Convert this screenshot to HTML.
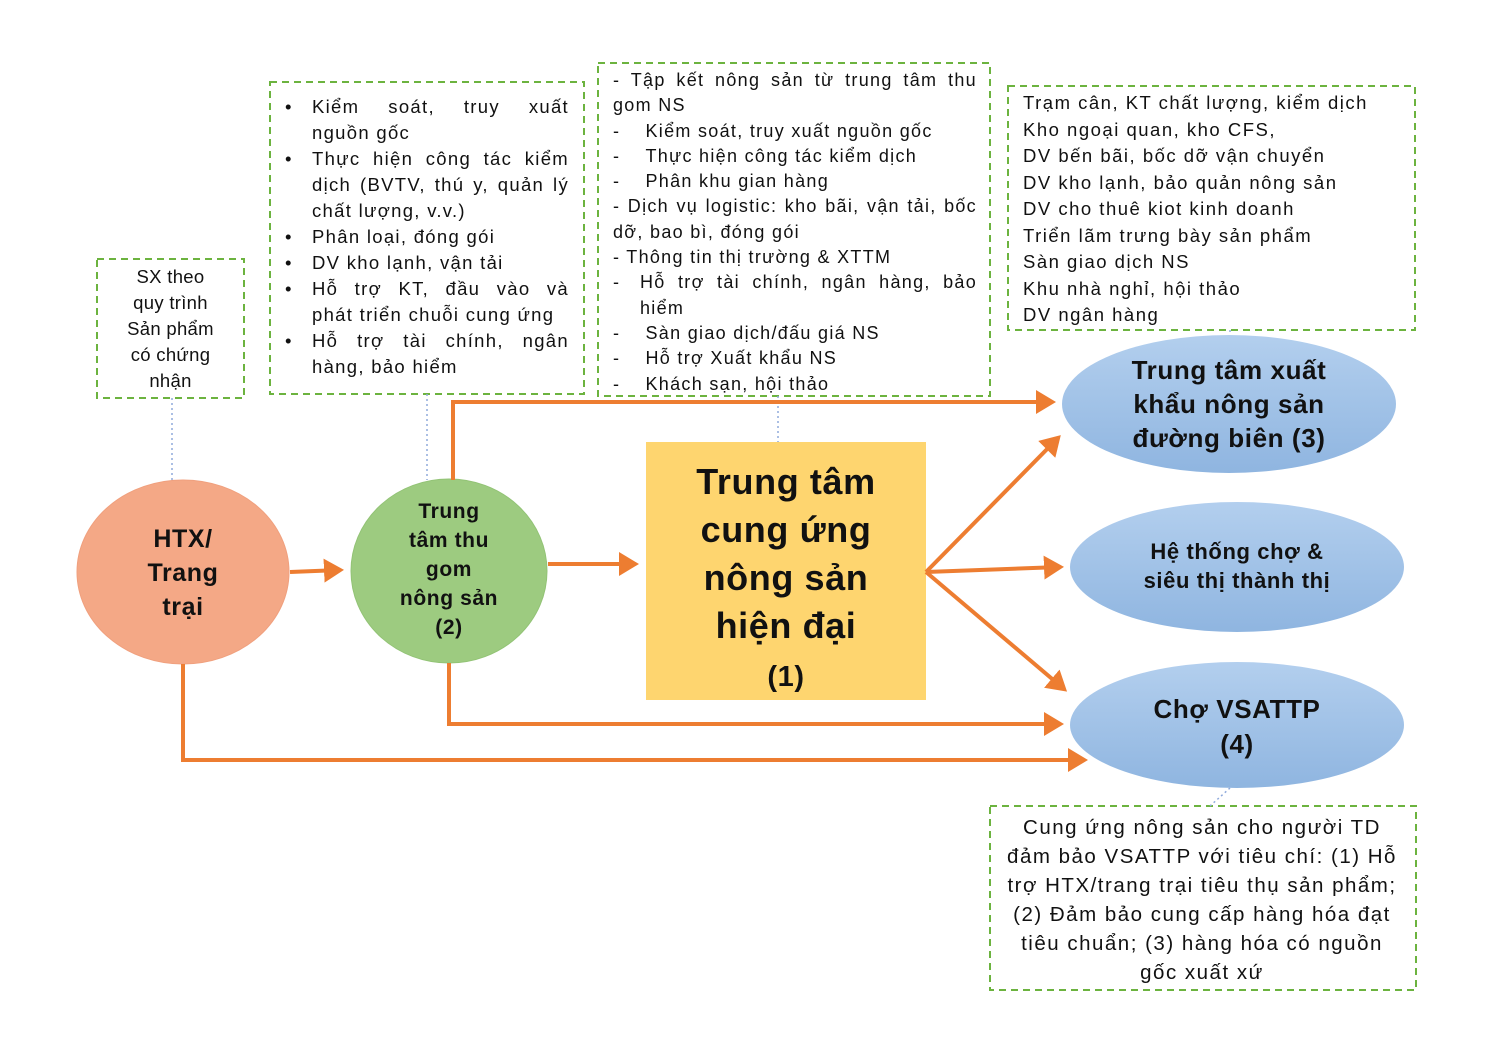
<!DOCTYPE html>
<html><head><meta charset="utf-8"><style>
body{margin:0;background:#fff;}
#c{position:relative;width:1487px;height:1045px;overflow:hidden;font-family:"Liberation Sans",Arial,sans-serif;color:#111;}
.t{position:absolute;font-size:18.5px;line-height:26px;letter-spacing:1.3px;}
.jl{text-align:justify;text-align-last:justify;}
.b{position:absolute;font-weight:bold;text-align:center;letter-spacing:0.6px;}
.r{display:flex}.r>span:first-child{width:27px;flex:none}.r>span:last-child{flex:1}
</style></head><body><div id="c">
<svg width="1487" height="1045" style="position:absolute;left:0;top:0">
<defs>
<linearGradient id="bl" x1="0" y1="0" x2="0" y2="1"><stop offset="0" stop-color="#b3cfee"/><stop offset="1" stop-color="#8fb5e0"/></linearGradient>
<marker id="a" markerWidth="6" markerHeight="6" refX="4" refY="3" orient="auto" markerUnits="strokeWidth"><path d="M0,0 L5,3 L0,6 z" fill="#ed7d31"/></marker>
</defs>
<g fill="none" stroke="#6cb33f" stroke-width="2" stroke-dasharray="7,5">
<rect x="97" y="259" width="147" height="139"/>
<rect x="270" y="82" width="314" height="312"/>
<rect x="598" y="63" width="392" height="333"/>
<rect x="1008" y="86" width="407" height="244"/>
<rect x="990" y="806" width="426" height="184"/>
</g>
<g stroke="#8faadc" stroke-width="1.5" stroke-dasharray="2,3">
<line x1="172" y1="398" x2="172" y2="480"/>
<line x1="427" y1="394" x2="427" y2="480"/>
<line x1="778" y1="396" x2="778" y2="442"/>
<line x1="1230" y1="330" x2="1230" y2="335"/>
<line x1="1230" y1="788" x2="1210" y2="806"/>
</g>
<ellipse cx="183" cy="572" rx="106" ry="92" fill="#f4a886" stroke="#f0a07e"/>
<ellipse cx="449" cy="571" rx="98" ry="92" fill="#9dcb80" stroke="#92c375"/>
<rect x="646" y="442" width="280" height="258" fill="#fed56f"/>
<ellipse cx="1229" cy="404" rx="167" ry="69" fill="url(#bl)"/>
<ellipse cx="1237" cy="567" rx="167" ry="65" fill="url(#bl)"/>
<ellipse cx="1237" cy="725" rx="167" ry="63" fill="url(#bl)"/>
<g stroke="#ed7d31" stroke-width="4" fill="none">
<line x1="290" y1="572" x2="340" y2="570" marker-end="url(#a)"/>
<line x1="548" y1="564" x2="635" y2="564" marker-end="url(#a)"/>
<polyline points="453,480 453,402 1052,402" marker-end="url(#a)"/>
<polyline points="449,663 449,724 1060,724" marker-end="url(#a)"/>
<polyline points="183,664 183,760 1084,760" marker-end="url(#a)"/>
<line x1="926" y1="572" x2="1058" y2="438" marker-end="url(#a)"/>
<line x1="926" y1="572" x2="1060" y2="567" marker-end="url(#a)"/>
<line x1="926" y1="572" x2="1064" y2="689" marker-end="url(#a)"/>
</g>
</svg>
<div class="t" style="left:100px;top:264px;width:141px;text-align:center;letter-spacing:0.3px">SX theo<br>quy trình<br>Sản phẩm<br>có chứng<br>nhận</div>
<div class="t" style="left:285px;top:94px;width:284px;">
<div class="r"><span>•</span><span class="jl">Kiểm soát, truy xuất</span></div>
<div class="r"><span></span><span>nguồn gốc</span></div>
<div class="r"><span>•</span><span class="jl">Thực hiện công tác kiểm</span></div>
<div class="r"><span></span><span class="jl">dịch (BVTV, thú y, quản lý</span></div>
<div class="r"><span></span><span>chất lượng, v.v.)</span></div>
<div class="r"><span>•</span><span>Phân loại, đóng gói</span></div>
<div class="r"><span>•</span><span>DV kho lạnh, vận tải</span></div>
<div class="r"><span>•</span><span class="jl">Hỗ trợ KT, đầu vào và</span></div>
<div class="r"><span></span><span>phát triển chuỗi cung ứng</span></div>
<div class="r"><span>•</span><span class="jl">Hỗ trợ tài chính, ngân</span></div>
<div class="r"><span></span><span>hàng, bảo hiểm</span></div>
</div>
<div class="t" style="left:613px;top:68px;width:364px;font-size:18px;line-height:25.3px;">
<div class="jl">- Tập kết nông sản từ trung tâm thu</div>
<div>gom NS</div>
<div>-&nbsp;&nbsp;&nbsp;&nbsp;Kiểm soát, truy xuất nguồn gốc</div>
<div>-&nbsp;&nbsp;&nbsp;&nbsp;Thực hiện công tác kiểm dịch</div>
<div>-&nbsp;&nbsp;&nbsp;&nbsp;Phân khu gian hàng</div>
<div class="jl">- Dịch vụ logistic: kho bãi, vận tải, bốc</div>
<div>dỡ, bao bì, đóng gói</div>
<div>- Thông tin thị trường &amp; XTTM</div>
<div class="r"><span>-</span><span class="jl">Hỗ trợ tài chính, ngân hàng, bảo</span></div>
<div class="r"><span></span><span>hiểm</span></div>
<div>-&nbsp;&nbsp;&nbsp;&nbsp;Sàn giao dịch/đấu giá NS</div>
<div>-&nbsp;&nbsp;&nbsp;&nbsp;Hỗ trợ Xuất khẩu NS</div>
<div>-&nbsp;&nbsp;&nbsp;&nbsp;Khách sạn, hội thảo</div>
</div>
<div class="t" style="left:1023px;top:90px;width:390px;line-height:26.5px;letter-spacing:1.5px;">Trạm cân, KT chất lượng, kiểm dịch<br>Kho ngoại quan, kho CFS,<br>DV bến bãi, bốc dỡ vận chuyển<br>DV kho lạnh, bảo quản nông sản<br>DV cho thuê kiot kinh doanh<br>Triển lãm trưng bày sản phẩm<br>Sàn giao dịch NS<br>Khu nhà nghỉ, hội thảo<br>DV ngân hàng</div>
<div class="t" style="left:992px;top:813px;width:420px;text-align:center;font-size:20.5px;line-height:29px;letter-spacing:1.5px;">Cung ứng nông sản cho người TD<br>đảm bảo VSATTP với tiêu chí: (1) Hỗ<br>trợ HTX/trang trại tiêu thụ sản phẩm;<br>(2) Đảm bảo cung cấp hàng hóa đạt<br>tiêu chuẩn; (3) hàng hóa có nguồn<br>gốc xuất xứ</div>
<div class="b" style="left:100px;top:522px;width:166px;font-size:25px;line-height:34px;">HTX/<br>Trang<br>trại</div>
<div class="b" style="left:370px;top:497px;width:158px;font-size:21px;line-height:29px;">Trung<br>tâm thu<br>gom<br>nông sản<br>(2)</div>
<div class="b" style="left:646px;top:458px;width:280px;font-size:36px;line-height:48px;">Trung tâm<br>cung ứng<br>nông sản<br>hiện đại<br><span style="font-size:29px;line-height:40px">(1)</span></div>
<div class="b" style="left:1070px;top:353px;width:318px;font-size:26px;line-height:34px;">Trung tâm xuất<br>khẩu nông sản<br>đường biên (3)</div>
<div class="b" style="left:1075px;top:537px;width:324px;font-size:22px;line-height:29px;">Hệ thống chợ &amp;<br>siêu thị thành thị</div>
<div class="b" style="left:1075px;top:692px;width:324px;font-size:26px;line-height:35px;">Chợ VSATTP<br>(4)</div>
</div></body></html>
